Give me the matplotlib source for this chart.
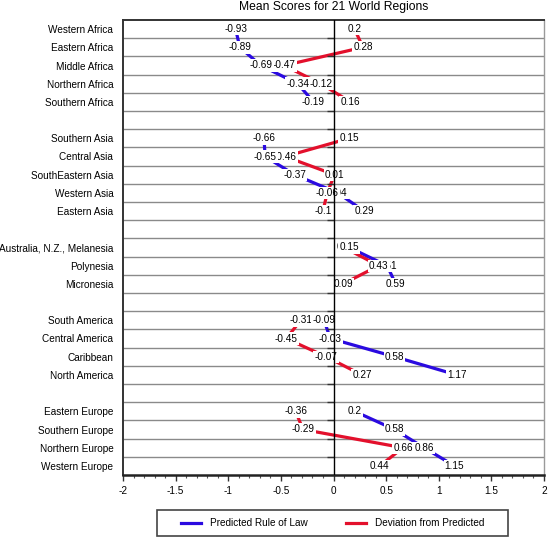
import numpy as np
import matplotlib
matplotlib.use("Agg")
import matplotlib.pyplot as plt
from matplotlib.lines import Line2D
from matplotlib.patches import Rectangle

nan = np.nan
regions = ["Western Africa", "Eastern Africa", "Middle Africa", "Northern Africa", "Southern Africa", "",
           "Southern Asia", "Central Asia", "SouthEastern Asia", "Western Asia", "Eastern Asia", "",
           "Australia, N.Z., Melanesia", "Polynesia", "Micronesia", "",
           "South America", "Central America", "Caribbean", "North America", "",
           "Eastern Europe", "Southern Europe", "Northern Europe", "Western Europe"]
predicted = [-0.93, -0.89, -0.69, -0.34, -0.19, nan,
             -0.66, -0.65, -0.37, 0.04, 0.29, nan,
             0.15, 0.51, 0.59, nan,
             -0.09, -0.03, 0.58, 1.17, nan,
             0.2, 0.58, 0.86, 1.15]
deviation = [0.2, 0.28, -0.47, -0.12, 0.16, nan,
             0.15, -0.46, 0.01, -0.06, -0.1, nan,
             0.1, 0.43, 0.09, nan,
             -0.31, -0.45, -0.07, 0.27, nan,
             -0.36, -0.29, 0.66, 0.44]
xticks = [-2, -1.5, -1, -0.5, 0, 0.5, 1, 1.5, 2]
xticklabels = ["-2", "-1.5", "-1", "-0.5", "0", "0.5", "1", "1.5", "2"]
series_names = ["Predicted Rule of Law", "Deviation from Predicted"]
red_on_top = ["Western Asia", "Polynesia"]

BLUE = "#2a0ae0"
RED = "#e3102c"
FONT = "Liberation Sans"
FS = 7.2

plt.rcParams["font.family"] = [FONT, "DejaVu Sans"]

W, H = 548, 539
fig = plt.figure(figsize=(W / 100, H / 100), dpi=100)
L, R, T, B = 123, 544, 20, 475
ax = fig.add_axes([L / W, 1 - B / H, (R - L) / W, (B - T) / H])

n = len(regions)
centers = np.arange(n) + 0.5
ax.set_xlim(-2, 2)
ax.set_ylim(n, 0)

# row separators
for b in range(1, n):
    ax.axhline(b, color="#8a8a8a", lw=1.0, zorder=0.5)
# small ticks on zero axis
ax.plot([0] * (n - 1), np.arange(1, n), ls="none", marker=0, ms=5, mew=1.0,
        color="#333333", zorder=4)
ax.axvline(0, color="black", lw=1.0, zorder=4)

ax.plot(predicted, centers, color=BLUE, lw=2.3, solid_capstyle="butt", zorder=2)
ax.plot(deviation, centers, color=RED, lw=2.3, solid_capstyle="butt", zorder=2)

bb = dict(boxstyle="square,pad=0.12", fc="white", ec="none")
for i, (p, d) in enumerate(zip(predicted, deviation)):
    if np.isnan(p):
        continue
    ztop = 3.2
    zb, zr = (3.0, ztop) if regions[i] in red_on_top else (ztop, 3.0)
    ax.text(p, centers[i], f"{p:g}", ha="center", va="center", fontsize=FS,
            bbox=bb, zorder=zb)
    ax.text(d, centers[i], f"{d:g}", ha="center", va="center", fontsize=FS,
            bbox=bb, zorder=zr)

ax.set_yticks(centers)
ax.set_yticklabels(regions, fontsize=FS)
ax.tick_params(axis="y", length=0, pad=7)
ax.set_xticks(xticks)
ax.set_xticklabels(xticklabels, fontsize=FS)
ax.set_xticks(np.arange(-20, 21) / 10, minor=True)
ax.tick_params(axis="x", which="major", length=4, width=1, direction="out", pad=4, color="#333333")
ax.tick_params(axis="x", which="minor", length=2, width=0.8, direction="out", color="#555555")

for s in ["left", "top"]:
    ax.spines[s].set_color("#333333")
    ax.spines[s].set_linewidth(1.4)
ax.spines["bottom"].set_color("#222222")
ax.spines["bottom"].set_linewidth(1.8)
ax.spines["right"].set_color("#9a9a9a")
ax.spines["right"].set_linewidth(1.0)

fig.text((L + R) / 2 / W, 1 - 7 / H, "Mean Scores for 21 World Regions",
         ha="center", va="center", fontsize=8.7)

handles = [Line2D([], [], color=BLUE, lw=2.3), Line2D([], [], color=RED, lw=2.3)]
fig.legend(handles, series_names, loc="center",
           bbox_to_anchor=(332.5 / W, 1 - 523 / H), ncol=2, frameon=False,
           fontsize=FS, handlelength=2.0, handletextpad=0.9, columnspacing=3.8)
fig.patches.append(Rectangle((157 / W, 1 - 536 / H), (508 - 157) / W, 26 / H,
                             transform=fig.transFigure, fill=False,
                             ec="#444444", lw=1.2))

fig.savefig("out.png", dpi=100)
